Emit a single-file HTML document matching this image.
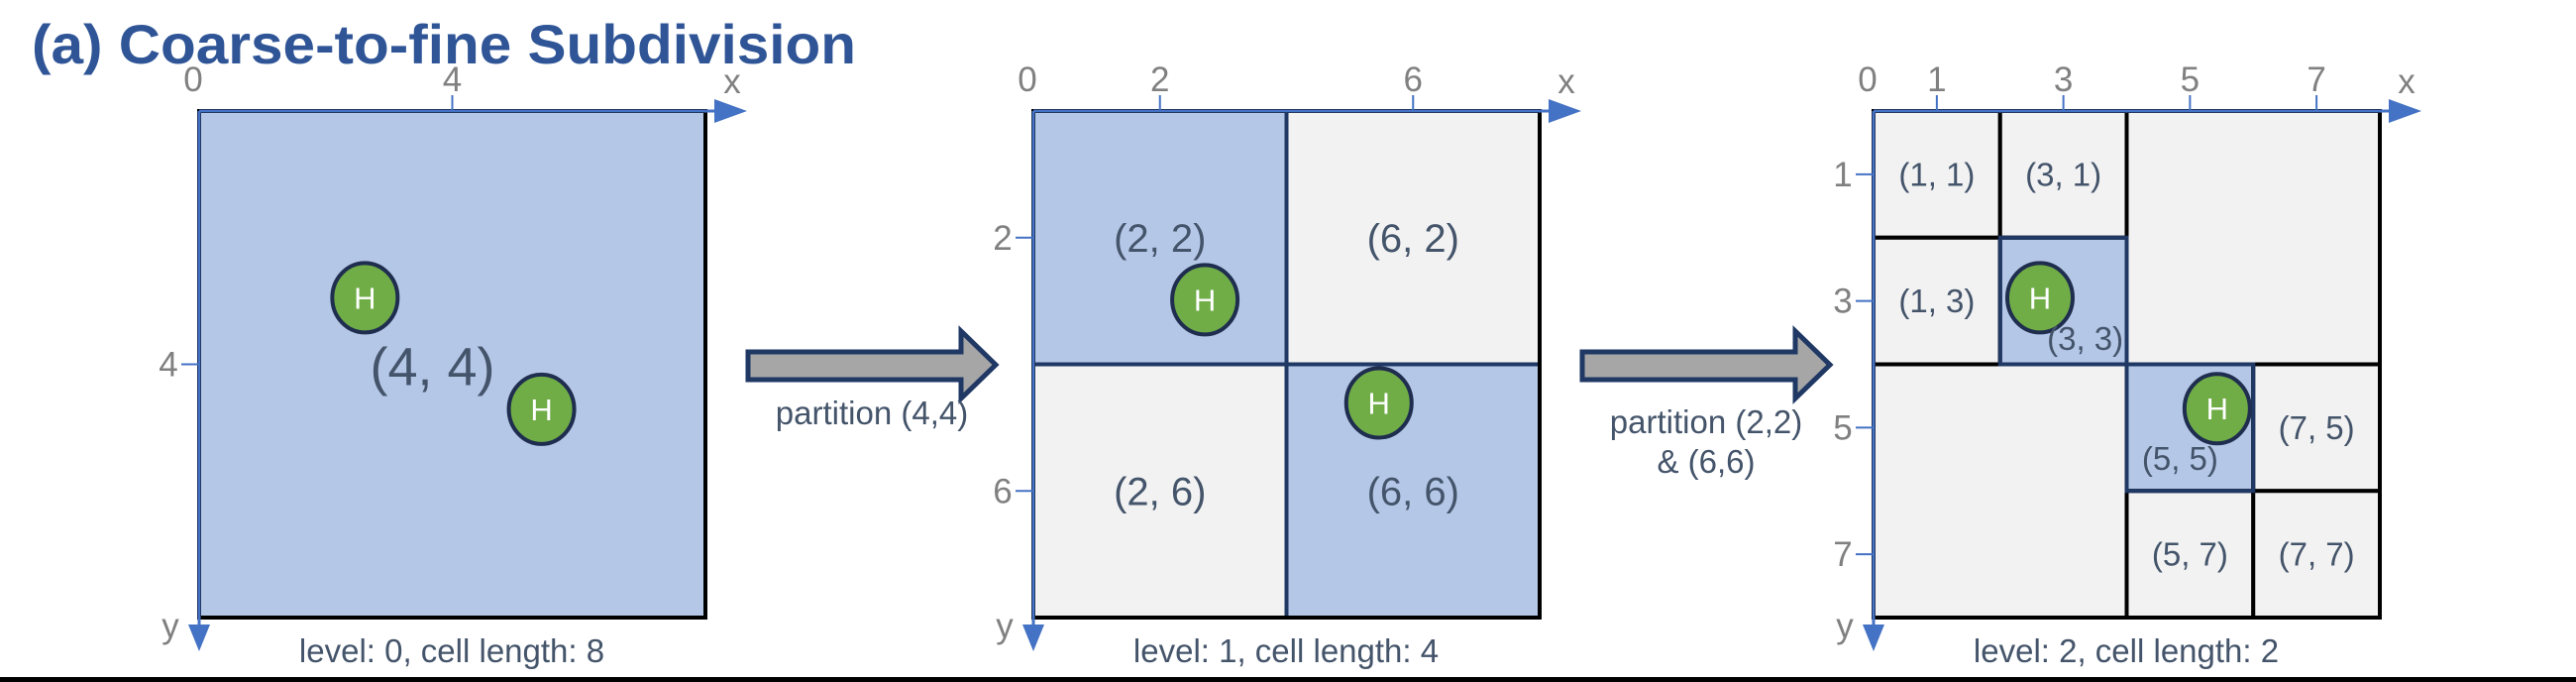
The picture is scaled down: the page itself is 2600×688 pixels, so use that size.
<!DOCTYPE html>
<html><head><meta charset="utf-8"><style>
html,body{margin:0;padding:0;background:#fff;}
svg{display:block;font-family:"Liberation Sans",sans-serif;}
</style></head><body>
<svg id="fig" width="2600" height="688" viewBox="0 0 2600 688">
<text x="32" y="64" font-size="56" font-weight="bold" fill="#2f5597" textLength="832" lengthAdjust="spacingAndGlyphs">(a) Coarse-to-fine Subdivision</text>
<g id="panels"></g>
<rect x="0" y="683" width="2600" height="5" fill="#000"/>
</svg>
<script>
// data
const panelOrigins = [201, 1043, 1891];
const panelLevels = [0, 1, 2];
const cellLengths = [8, 4, 2];
const xTicks = [[0,4],[0,2,6],[0,1,3,5,7]];
const yTicks = [[4],[2,6],[1,3,5,7]];
// cells: [cx, cy, size, blue(1/0), label]
const cells0 = [[4,4,8,1,"(4, 4)"]];
const cells1 = [[2,2,4,1,"(2, 2)"],[6,2,4,0,"(6, 2)"],[2,6,4,0,"(2, 6)"],[6,6,4,1,"(6, 6)"]];
const cells2 = [[1,1,2,0,"(1, 1)"],[3,1,2,0,"(3, 1)"],[6,2,4,0,""],[1,3,2,0,"(1, 3)"],[3,3,2,1,"(3, 3)"],[2,6,4,0,""],[5,5,2,1,"(5, 5)"],[7,5,2,0,"(7, 5)"],[5,7,2,0,"(5, 7)"],[7,7,2,0,"(7, 7)"]];
const allCells = [cells0, cells1, cells2];
// hydrogen positions per panel (grid units)
const hPoints = [[[2.62,2.95],[5.41,4.71]],[[2.71,2.98],[5.46,4.61]],[[2.63,2.95],[5.43,4.7]]];
const arrowLabels = [["partition (4,4)"],["partition (2,2)","& (6,6)"]];

const NS="http://www.w3.org/2000/svg";
const top0=112, unit=511/8;
const g=document.getElementById('panels');
function mk(t,a,p){const e=document.createElementNS(NS,t);for(const k in a)e.setAttribute(k,a[k]);(p||g).appendChild(e);return e;}
function sx(p,v){return panelOrigins[p]+v*unit;}
function sy(v){return top0+v*unit;}

for(let p=0;p<3;p++){
  const cells=allCells[p];
  const fs=[54,40,33][p];
  cells.forEach(c=>{
    const x=sx(p,c[0]-c[2]/2), y=sy(c[1]-c[2]/2), s=c[2]*unit;
    const r=mk('rect',{x:x,y:y,width:s,height:s,fill:c[3]?'#b4c7e7':'#f2f2f2',stroke:'#000','stroke-width':4});
    
    
  });
  cells.filter(c=>c[3]&&p>0).forEach(c=>{
    const x=sx(p,c[0]-c[2]/2), y=sy(c[1]-c[2]/2), s=c[2]*unit;
    mk('rect',{x:x,y:y,width:s,height:s,fill:'none',stroke:'#1f3864','stroke-width':4});
  });
  // outer border black
  mk('rect',{x:sx(p,0),y:sy(0),width:8*unit,height:8*unit,fill:'none',stroke:'#000','stroke-width':4});
  hPoints[p].forEach(h=>{
    const cg=mk('g',{});
    
    
    mk('ellipse',{cx:sx(p,h[0]),cy:sy(h[1]),rx:33,ry:35,fill:'#70ad47',stroke:'#1f2d4f','stroke-width':4},cg);
    const t=mk('text',{x:sx(p,h[0]),y:sy(h[1])+11,'font-size':31,fill:'#fff','text-anchor':'middle'},cg);
    t.textContent='H';
  });
  cells.forEach(c=>{
    if(!c[4])return;
    let lx=sx(p,c[0]), ly=sy(c[1]);
    if(p===0){lx-=20;ly+=2;}
    if(p===2&&c[0]===3&&c[1]===3){lx+=22;ly+=38;}
    if(p===2&&c[0]===5&&c[1]===5){lx-=10;ly+=31;}
    const t=mk('text',{x:lx,y:ly+fs*0.35,'font-size':fs,fill:'#44546a','text-anchor':'middle'});
    
    
    t.textContent=c[4];
  });
  const x0=panelOrigins[p];
  const ax=mk('line',{x1:x0,y1:top0,x2:x0+525,y2:top0,stroke:'#4472c4','stroke-width':3});
  
  mk('polygon',{points:`${x0+520},${top0-12} ${x0+553},${top0} ${x0+520},${top0+12}`,fill:'#4472c4'});
  const ay=mk('line',{x1:x0,y1:top0,x2:x0,y2:top0+520,stroke:'#4472c4','stroke-width':3});
  
  mk('polygon',{points:`${x0-11},${top0+518} ${x0},${top0+545} ${x0+11},${top0+518}`,fill:'#4472c4'});
  let t=mk('text',{x:x0+538,y:top0-18,'font-size':35,fill:'#808080','text-anchor':'middle'});t.textContent='x';
  
  t=mk('text',{x:x0-29,y:top0+531,'font-size':35,fill:'#808080','text-anchor':'middle'});t.textContent='y';
  
  xTicks[p].forEach(v=>{
    const X=v===0?x0-6:sx(p,v);
    if(v)mk('line',{x1:sx(p,v),y1:top0-16,x2:sx(p,v),y2:top0,stroke:'#4472c4','stroke-width':2});
    const tt=mk('text',{x:X,y:top0-20,'font-size':35,fill:'#808080','text-anchor':'middle'});
    
    tt.textContent=v;
  });
  yTicks[p].forEach(v=>{
    mk('line',{x1:x0-18,y1:sy(v),x2:x0,y2:sy(v),stroke:'#4472c4','stroke-width':2});
    const tt=mk('text',{x:x0-31,y:sy(v)+12,'font-size':35,fill:'#808080','text-anchor':'middle'});
    
    tt.textContent=v;
  });
  t=mk('text',{x:x0+255,y:668,'font-size':33,fill:'#44546a','text-anchor':'middle'});
  
  t.textContent='level: '+panelLevels[p]+', cell length: '+cellLengths[p];
}
const arrowX=[755,1597];
arrowLabels.forEach((lbls,i)=>{
  const a=arrowX[i];
  const pg=mk('polygon',{points:`${a},355 ${a+215},355 ${a+215},334 ${a+250},368 ${a+215},402 ${a+215},383 ${a},383`,fill:'#a6a6a6',stroke:'#1f3864','stroke-width':5});
  
  lbls.forEach((s,j)=>{
    const t=mk('text',{x:a+125,y:(i===0?428:437)+j*40,'font-size':33,fill:'#44546a','text-anchor':'middle'});
    
    t.textContent=s;
  });
});
</script>
</body></html>
